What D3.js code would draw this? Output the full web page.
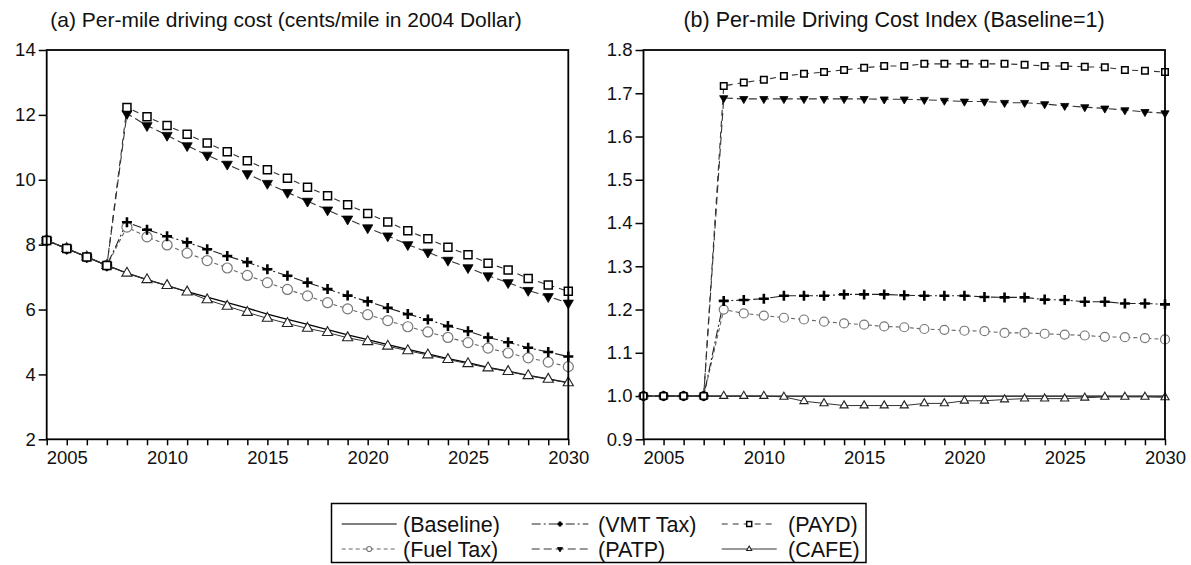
<!DOCTYPE html>
<html>
<head>
<meta charset="utf-8">
<script src="https://cdn.jsdelivr.net/npm/d3@7"></script>
<style>
  html, body { margin: 0; padding: 0; background: #fff; }
  svg { display: block; font-family: "Liberation Sans", Arial, Helvetica, sans-serif; }
</style>
</head>
<body>
<svg id="chart" width="1191" height="565"></svg>
<script>
// ---------- DATA ----------
const years = [2004,2005,2006,2007,2008,2009,2010,2011,2012,2013,2014,2015,2016,2017,2018,2019,2020,2021,2022,2023,2024,2025,2026,2027,2028,2029,2030];

// (a) per-mile driving cost, cents/mile in 2004 dollars
const costBaseline = [8.13,7.88,7.62,7.36,7.12,6.92,6.74,6.55,6.38,6.21,6.04,5.86,5.70,5.54,5.38,5.22,5.07,4.92,4.77,4.63,4.49,4.36,4.22,4.10,3.97,3.86,3.75];
const costFuelTax  = [8.13,7.88,7.62,7.36,8.54,8.24,7.99,7.74,7.51,7.28,7.05,6.83,6.62,6.42,6.21,6.02,5.84,5.66,5.47,5.31,5.14,4.98,4.81,4.66,4.51,4.38,4.24];
const costVMT      = [8.13,7.88,7.62,7.36,8.69,8.46,8.26,8.07,7.86,7.65,7.46,7.24,7.04,6.83,6.63,6.43,6.25,6.05,5.86,5.69,5.49,5.33,5.14,4.99,4.82,4.69,4.55];
const costPAYD     = [8.13,7.88,7.62,7.36,12.23,11.94,11.67,11.40,11.13,10.86,10.59,10.31,10.05,9.77,9.51,9.23,8.96,8.70,8.43,8.18,7.92,7.69,7.43,7.22,6.96,6.76,6.56];
const costPATP     = [8.13,7.88,7.62,7.36,12.04,11.67,11.37,11.05,10.76,10.48,10.19,9.89,9.61,9.34,9.07,8.79,8.52,8.27,8.00,7.77,7.52,7.29,7.04,6.83,6.59,6.40,6.20];
const costCAFE     = [8.13,7.88,7.62,7.36,7.12,6.92,6.74,6.54,6.30,6.10,5.91,5.73,5.57,5.42,5.29,5.13,5.01,4.87,4.73,4.60,4.46,4.33,4.20,4.09,3.96,3.85,3.74];

// (b) per-mile driving cost index (baseline = 1)
const idxBaseline = [1,1,1,1,1,1,1,1,1,1,1,1,1,1,1,1,1,1,1,1,1,1,1,1,1,1,1];
const idxFuelTax  = [1,1,1,1,1.200,1.191,1.186,1.181,1.177,1.172,1.168,1.165,1.161,1.159,1.155,1.153,1.151,1.150,1.146,1.146,1.144,1.142,1.140,1.137,1.136,1.134,1.131];
const idxVMT      = [1,1,1,1,1.220,1.222,1.225,1.232,1.232,1.232,1.235,1.235,1.235,1.233,1.232,1.232,1.232,1.229,1.228,1.228,1.223,1.222,1.218,1.218,1.214,1.214,1.212];
const idxPAYD     = [1,1,1,1,1.717,1.725,1.731,1.740,1.745,1.749,1.754,1.759,1.763,1.763,1.768,1.768,1.768,1.768,1.768,1.766,1.763,1.763,1.761,1.760,1.754,1.752,1.749];
const idxPATP     = [1,1,1,1,1.689,1.687,1.687,1.687,1.687,1.687,1.687,1.687,1.686,1.686,1.685,1.683,1.681,1.681,1.678,1.678,1.675,1.671,1.668,1.665,1.661,1.657,1.654];
const idxCAFE     = [1,1,1,1,1,1,1,0.998,0.988,0.983,0.978,0.978,0.978,0.978,0.983,0.983,0.989,0.989,0.992,0.994,0.994,0.994,0.996,0.998,0.998,0.998,0.997];

const seriesNames = ["(Baseline)","(Fuel Tax)","(VMT Tax)","(PATP)","(PAYD)","(CAFE)"];
const costTicks = [2,4,6,8,10,12,14];
const idxTicks = [0.9,1.0,1.1,1.2,1.3,1.4,1.5,1.6,1.7,1.8];
const yearLabels = [2005,2010,2015,2020,2025,2030];
const titleA = "(a) Per-mile driving cost (cents/mile in 2004 Dollar)";
const titleB = "(b) Per-mile Driving Cost Index (Baseline=1)";

// ---------- STYLES ----------
const styles = {
  "(Baseline)": {stroke:"#000", width:1.3, dash:null, marker:null},
  "(Fuel Tax)": {stroke:"#666", width:1.1, dash:"4,3", marker:"circle"},
  "(VMT Tax)":  {stroke:"#222", width:1.1, dash:"9,3,2,3", marker:"plus"},
  "(PATP)":     {stroke:"#333", width:1.1, dash:"8,4", marker:"tridown"},
  "(PAYD)":     {stroke:"#333", width:1.1, dash:"6,5", marker:"square"},
  "(CAFE)":     {stroke:"#333", width:1.0, dash:null, marker:"triup"}
};

const svg = d3.select("#chart");

function markerPath(type, s) {
  if (type === "circle") return d3.symbol(d3.symbolCircle, Math.PI * s * s / 4)();
  if (type === "square") return d3.symbol(d3.symbolSquare, s * s)();
  if (type === "triup" || type === "tridown") return d3.symbol(d3.symbolTriangle, s * s * 0.45)();
  if (type === "plus") { const h = s / 2; return `M${-h},0H${h}M0,${-h}V${h}`; }
  return null;
}

function drawMarker(g, type, s) {
  const p = g.append("path").attr("d", markerPath(type, s));
  if (type === "circle") p.attr("fill", "#fff").attr("stroke", "#777").attr("stroke-width", 1.2);
  else if (type === "square") p.attr("fill", "#fff").attr("stroke", "#000").attr("stroke-width", 1.5);
  else if (type === "triup") p.attr("fill", "#fff").attr("stroke", "#222").attr("stroke-width", 1.1);
  else if (type === "tridown") p.attr("fill", "#000").attr("stroke", "#000").attr("stroke-width", 0.8).attr("transform", "rotate(180)");
  else if (type === "plus") p.attr("fill", "none").attr("stroke", "#000").attr("stroke-width", 2.6);
  return p;
}

function panel(opts) {
  const {x0, x1, y0, y1, domain, ticks, fmt, data, title, titleX, titleSize, msize} = opts;
  const x = d3.scaleLinear().domain([2004, 2030]).range([x0, x1]);
  const y = d3.scaleLinear().domain(domain).range([y1, y0]);
  const g = svg.append("g");

  // title
  g.append("text").attr("x", titleX).attr("y", 27).attr("text-anchor", "middle")
    .attr("font-size", titleSize).attr("fill", "#111").text(title);

  // axes
  const ax = g.append("g").attr("transform", `translate(0,${y1})`)
    .call(d3.axisBottom(x).tickValues(years).tickSize(6).tickSizeOuter(0)
      .tickFormat(d => yearLabels.includes(d) ? d : ""));
  const ay = g.append("g").attr("transform", `translate(${x0},0)`)
    .call(d3.axisLeft(y).tickValues(ticks).tickSize(8).tickSizeOuter(0).tickFormat(fmt));
  [ax, ay].forEach(a => {
    a.select(".domain").remove();
    a.selectAll(".tick line").attr("stroke", "#000").attr("stroke-width", 1.5);
    a.selectAll(".tick text").attr("font-size", 18.5).attr("fill", "#111")
      .attr("font-family", "'Liberation Sans', Arial, sans-serif");
  });
  ax.selectAll(".tick text").attr("dy", "0.95em").attr("y", 7);
  ay.selectAll(".tick text").attr("x", -11);

  // series
  const line = d3.line().x((d, i) => x(years[i])).y(d => y(d));
  const order = ["(Baseline)","(CAFE)","(Fuel Tax)","(VMT Tax)","(PATP)","(PAYD)"];
  order.forEach(name => {
    const st = styles[name];
    g.append("path").datum(data[name]).attr("d", line).attr("fill", "none")
      .attr("stroke", st.stroke).attr("stroke-width", st.width)
      .attr("stroke-dasharray", st.dash);
  });
  order.forEach(name => {
    const st = styles[name];
    if (!st.marker) return;
    const mg = g.append("g");
    data[name].forEach((v, i) => {
      const m = mg.append("g").attr("transform", `translate(${x(years[i])},${y(v)})`);
      drawMarker(m, st.marker, msize[st.marker]);
    });
  });

  // frame
  g.append("rect").attr("x", x0).attr("y", y0).attr("width", x1 - x0).attr("height", y1 - y0)
    .attr("fill", "none").attr("stroke", "#000").attr("stroke-width", 1.8);
}

panel({
  x0: 46.7, x1: 568.3, y0: 50, y1: 439.3, domain: [2, 14], ticks: costTicks, fmt: d3.format("d"),
  title: titleA, titleX: 286, titleSize: 21,
  data: {"(Baseline)": costBaseline, "(Fuel Tax)": costFuelTax, "(VMT Tax)": costVMT,
         "(PATP)": costPATP, "(PAYD)": costPAYD, "(CAFE)": costCAFE},
  msize: {circle: 10, square: 8, triup: 10, tridown: 10, plus: 10}
});
panel({
  x0: 643.5, x1: 1165, y0: 50, y1: 439.3, domain: [0.9, 1.8], ticks: idxTicks, fmt: d3.format(".1f"),
  title: titleB, titleX: 894, titleSize: 21.5,
  data: {"(Baseline)": idxBaseline, "(Fuel Tax)": idxFuelTax, "(VMT Tax)": idxVMT,
         "(PATP)": idxPATP, "(PAYD)": idxPAYD, "(CAFE)": idxCAFE},
  msize: {circle: 9, square: 6.5, triup: 8, tridown: 8, plus: 10}
});

// ---------- LEGEND ----------
const leg = svg.append("g");
leg.append("rect").attr("x", 331.5).attr("y", 503.5).attr("width", 534.5).attr("height", 59)
  .attr("fill", "#fff").attr("stroke", "#000").attr("stroke-width", 1.5);
const legendLayout = [
  {name: "(Baseline)", col: 0, row: 0},
  {name: "(Fuel Tax)", col: 0, row: 1},
  {name: "(VMT Tax)",  col: 1, row: 0},
  {name: "(PATP)",     col: 1, row: 1},
  {name: "(PAYD)",     col: 2, row: 0},
  {name: "(CAFE)",     col: 2, row: 1}
];
const colLineX = [[341.7, 396.7], [531.7, 588.3], [721.7, 776.7]];
const colTextX = [403, 598, 788];
const rowY = [524, 549];
legendLayout.forEach(it => {
  const st = styles[it.name];
  const [lx0, lx1] = colLineX[it.col];
  const yy = rowY[it.row];
  leg.append("line").attr("x1", lx0).attr("x2", lx1).attr("y1", yy).attr("y2", yy)
    .attr("stroke", st.stroke).attr("stroke-width", 1.2).attr("stroke-dasharray", st.dash);
  if (st.marker) {
    const m = leg.append("g").attr("transform", `translate(${(lx0 + lx1) / 2},${yy})`);
    drawMarker(m, st.marker, 5);
  }
  leg.append("text").attr("x", colTextX[it.col]).attr("y", yy).attr("dy", "0.36em")
    .attr("font-size", 21.5).attr("fill", "#111").text(it.name);
});
</script>
</body>
</html>
